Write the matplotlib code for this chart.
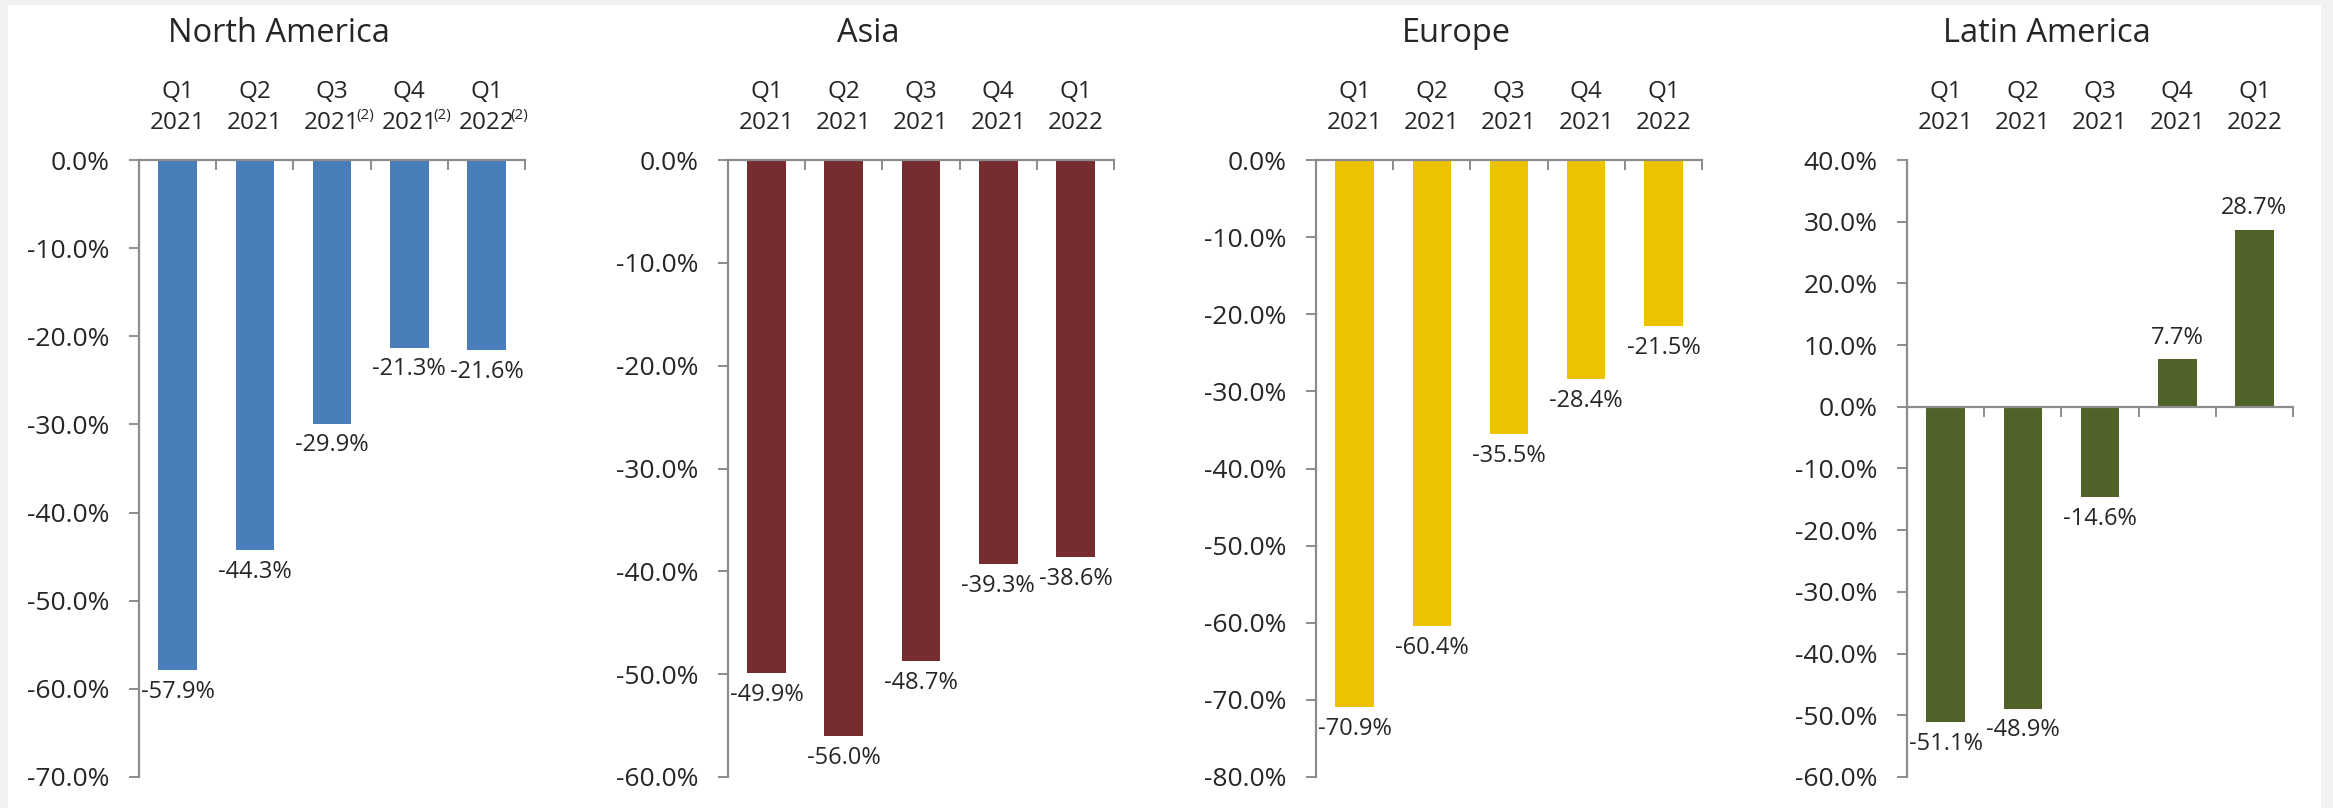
import matplotlib
matplotlib.use("Agg")
import matplotlib.pyplot as plt
from matplotlib.patches import Rectangle
from matplotlib.transforms import blended_transform_factory, offset_copy
from matplotlib.ticker import FuncFormatter, FixedLocator

plt.rcParams['font.family'] = ['Open Sans', 'DejaVu Sans']
plt.rcParams['axes.unicode_minus'] = False

# ---- data ----
quarters = ["Q1", "Q2", "Q3", "Q4", "Q1"]
years = ["2021", "2021", "2021", "2021", "2022"]
regions = ["North America", "Asia", "Europe", "Latin America"]

north_america = [-57.9, -44.3, -29.9, -21.3, -21.6]
asia = [-49.9, -56.0, -48.7, -39.3, -38.6]
europe = [-70.9, -60.4, -35.5, -28.4, -21.5]
latin_america = [-51.1, -48.9, -14.6, 7.7, 28.7]

# footnote marker flags for North America year labels
na_footnote = [False, False, True, True, True]

y_ranges = [(-70, 0), (-60, 0), (-80, 0), (-60, 40)]
colors = ["#4A7EBB", "#772C2F", "#EDC200", "#4F6228"]
series = [north_america, asia, europe, latin_america]

W, H = 2333, 808
DPI = 100
fig = plt.figure(figsize=(W / DPI, H / DPI), dpi=DPI, facecolor="#F2F2F2")
bg = Rectangle((8 / W, 0), (2321 - 8) / W, 1 - 5 / H,
               transform=fig.transFigure, facecolor="white",
               edgecolor="none", zorder=-10)
fig.add_artist(bg)

lefts_px = [139, 728, 1316, 1907]
width_px = 386
bottom_px = 777
top_px = 160

axis_gray = "#8C8C8C"
text_col = "#262626"

for i, (name, vals, (ymin, ymax), col) in enumerate(zip(regions, series, y_ranges, colors)):
    left = lefts_px[i] / W
    bottom = 1 - bottom_px / H
    top = 1 - top_px / H
    ax = fig.add_axes([left, bottom, width_px / W, top - bottom])
    ax.set_facecolor("none")

    x = list(range(len(vals)))
    ax.bar(x, vals, width=0.5, color=col, zorder=2)
    ax.set_xlim(-0.5, len(vals) - 0.5)
    ax.set_ylim(ymin, ymax)

    for s in ["top", "right"]:
        ax.spines[s].set_visible(False)
    ax.spines["left"].set_color(axis_gray)
    ax.spines["bottom"].set_color(axis_gray)
    ax.spines["left"].set_linewidth(1.6)
    ax.spines["bottom"].set_linewidth(1.6)
    ax.spines["bottom"].set_position(("data", 0))

    ax.yaxis.set_major_locator(FixedLocator(list(range(ymin, ymax + 1, 10))))
    ax.yaxis.set_major_formatter(FuncFormatter(lambda v, p: f"{v:.1f}%"))
    ax.tick_params(axis="y", direction="out", length=7, width=1.4, color=axis_gray,
                   labelsize=19, labelcolor=text_col, pad=14)
    ax.set_xticks([k + 0.5 for k in range(len(vals))])
    ax.set_xticklabels([])
    ax.tick_params(axis="x", direction="out", length=7, width=1.4, color=axis_gray)

    # category labels above the plot
    bt = blended_transform_factory(ax.transData, fig.transFigure)
    for k in x:
        ax.text(k, 1 - 92 / H, quarters[k], transform=bt, ha="center", va="center",
                fontsize=17.5, color=text_col, clip_on=False)
        ax.text(k, 1 - 123 / H, years[k], transform=bt, ha="center", va="center",
                fontsize=17.5, color=text_col, clip_on=False)
        if i == 0 and na_footnote[k]:
            ax.text(k, 1 - 116 / H, "(2)",
                    transform=offset_copy(bt, fig=fig, x=24, y=0, units="points"),
                    ha="center", va="center", fontsize=11, color=text_col, clip_on=False)

    # value labels
    for k, v in zip(x, vals):
        if v < 0:
            ax.annotate(f"{v:.1f}%", (k, v), xytext=(0, -7), textcoords="offset points",
                        ha="center", va="top", fontsize=17, color=text_col, zorder=3)
        else:
            ax.annotate(f"{v:.1f}%", (k, v), xytext=(0, 7), textcoords="offset points",
                        ha="center", va="bottom", fontsize=17, color=text_col, zorder=3)

    # panel title
    cx = (lefts_px[i] + width_px / 2 - 53) / W
    fig.text(cx, 1 - 34 / H, name, ha="center", va="center", fontsize=23.5, color=text_col)

fig.savefig("out.png", dpi=DPI, facecolor=fig.get_facecolor())
